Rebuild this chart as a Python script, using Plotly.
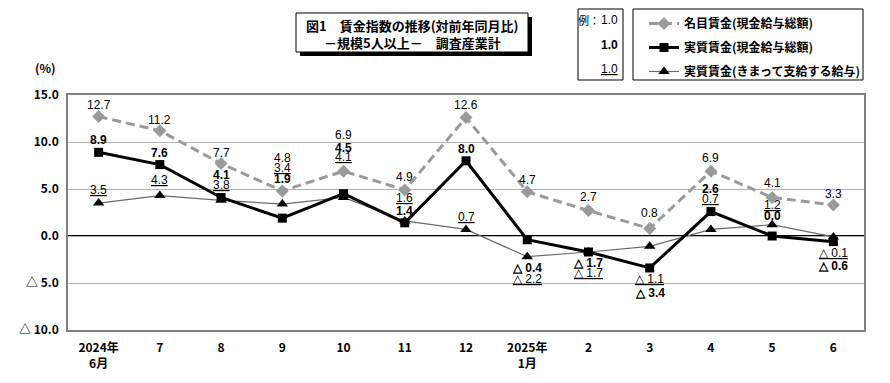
import plotly.graph_objects as go

# ---- data ----
categories = ["2024年<br>6月", "7", "8", "9", "10", "11", "12",
              "2025年<br>1月", "2", "3", "4", "5", "6"]
nominal = [12.7, 11.2, 7.7, 4.8, 6.9, 4.9, 12.6, 4.7, 2.7, 0.8, 6.9, 4.1, 3.3]
real_total = [8.9, 7.6, 4.1, 1.9, 4.5, 1.4, 8.0, -0.4, -1.7, -3.4, 2.6, 0.0, -0.6]
real_sched = [3.5, 4.3, 3.8, 3.4, 4.1, 1.6, 0.7, -2.2, -1.7, -1.1, 0.7, 1.2, -0.1]
ytick_vals = [-10, -5, 0, 5, 10, 15]
ytick_text = ["△ 10.0", "△ 5.0", "0.0", "5.0", "10.0", "15.0"]

names = ["名目賃金(現金給与総額)", "実質賃金(現金給与総額)", "実質賃金(きまって支給する給与)"]

# label vertical offsets in pixels (layout only)
nominal_dy = [12, 11, 11, 33, 36, 13, 13, 12, 14, 15, 13, 14, 11]
real_dy = [12, 12, 22, 39, 46, 12, 12, -28, -11, -25, 23, 20, -24]
sched_dy = [13, 16, 15, 36, 40, 23, 12, -22, -21, -33, 30, 20, -16]

# page offset (browser body margin)
OFF = 8
W, H = 890 - OFF, 383 - OFF
# plot area in reference-picture pixels
L, R, T, B = 68, 864, 95, 330


def px(x):
    return (x - L) / (R - L)


def py(y):
    return (B - y) / (B - T)


def fmt(v):
    return f"△ {abs(v):.1f}" if v < 0 else f"{v:.1f}"


CJK = "Noto Sans CJK JP"
NARROW = "Liberation Sans Narrow, Arial Narrow, sans-serif"

fig = go.Figure()
fig.add_trace(go.Scatter(
    x=categories, y=real_sched, name=names[2], mode="lines+markers",
    line=dict(color="#6a6a6a", width=1.2),
    marker=dict(symbol="triangle-up", size=10, color="black"),
    legendrank=3))
fig.add_trace(go.Scatter(
    x=categories, y=nominal, name=names[0], mode="lines+markers",
    line=dict(color="#9a9a9a", width=3, dash="9px,5px"),
    marker=dict(symbol="diamond", size=10, color="#9a9a9a"),
    legendrank=1))
fig.add_trace(go.Scatter(
    x=categories, y=real_total, name=names[1], mode="lines+markers",
    line=dict(color="black", width=3),
    marker=dict(symbol="square", size=9, color="black"),
    legendrank=2))

ann = []
for i, v in enumerate(nominal):
    ann.append(dict(x=i, y=v, xref="x", yref="y", text=fmt(v), showarrow=False,
                    xanchor="center", yanchor="middle",
                    yshift=nominal_dy[i], font=dict(family=NARROW, size=12, color="black")))
for i, v in enumerate(real_total):
    ann.append(dict(x=i, y=v, xref="x", yref="y", text=fmt(v), showarrow=False,
                    xanchor="center", yanchor="middle",
                    yshift=real_dy[i],
                    font=dict(family=NARROW, size=12, color="black", weight="bold")))
for i, v in enumerate(real_sched):
    ann.append(dict(x=i, y=v, xref="x", yref="y", text=fmt(v), showarrow=False,
                    xanchor="center", yanchor="middle",
                    yshift=sched_dy[i],
                    font=dict(family=NARROW, size=12, color="black", lineposition="under")))


def paper_text(x, y, text, font, xanchor="center"):
    ann.append(dict(x=px(x), y=py(y), xref="paper", yref="paper", showarrow=False,
                    xanchor=xanchor, yanchor="middle", text=text, font=font))


title_font = dict(family=CJK, size=13, color="black", weight="bold")
paper_text(412, 25, "図1　賃金指数の推移(対前年同月比)", title_font)
paper_text(412, 42, "－規模5人以上－　調査産業計", title_font)
# example box text
paper_text(602, 20, "例：", dict(family=CJK, size=11, color="black"), xanchor="right")
paper_text(620, 20, "1.0", dict(family=NARROW, size=12, color="black"), xanchor="right")
paper_text(620, 45, "1.0", dict(family=NARROW, size=12, color="black", weight="bold"), xanchor="right")
paper_text(620, 69, "1.0", dict(family=NARROW, size=12, color="black", lineposition="under"),
           xanchor="right")
# (%) label
paper_text(45, 68, "(%)", dict(family=CJK, size=12, color="black", weight="bold"))

shapes = [
    # title box shadow + box
    dict(type="rect", xref="paper", yref="paper", x0=px(300), x1=px(532), y0=py(17), y1=py(56),
         fillcolor="black", line=dict(width=0)),
    dict(type="rect", xref="paper", yref="paper", x0=px(296), x1=px(528), y0=py(13), y1=py(52),
         fillcolor="white", line=dict(color="black", width=1)),
    # example box
    dict(type="rect", xref="paper", yref="paper", x0=px(578), x1=px(623), y0=py(9), y1=py(80),
         fillcolor="white", line=dict(color="black", width=1)),
    # legend box
    dict(type="rect", xref="paper", yref="paper", x0=px(633), x1=px(863), y0=py(9), y1=py(80),
         fillcolor="rgba(0,0,0,0)", line=dict(color="black", width=1), layer="below"),
    # zero line
    dict(type="line", xref="paper", yref="y", x0=0, x1=1, y0=0, y1=0,
         line=dict(color="black", width=2), layer="below"),
]

fig.update_layout(
    width=W, height=H,
    margin=dict(l=L - OFF, r=W - (R - OFF), t=T - OFF, b=H - (B - OFF), autoexpand=False),
    paper_bgcolor="white", plot_bgcolor="white",
    showlegend=True,
    legend=dict(x=px(644), y=py(9), xanchor="left", yanchor="top",
                bgcolor="rgba(0,0,0,0)", borderwidth=0, tracegroupgap=5,
                font=dict(family=CJK, size=12, color="black", weight="bold")),
    annotations=ann, shapes=shapes,
    xaxis=dict(type="category", range=[-0.5, 12.5], showgrid=False,
               showline=True, linecolor="#808080", linewidth=1.5, mirror=True,
               ticks="", ticklabelstandoff=6,
               tickfont=dict(family=CJK, size=12, color="black", weight="bold"),
               zeroline=False),
    yaxis=dict(range=[-10, 15], tickvals=ytick_vals, ticktext=ytick_text,
               showgrid=True, gridcolor="#b4b4b4", gridwidth=1,
               showline=True, linecolor="#808080", linewidth=1.5, mirror=True,
               ticks="", zeroline=False, ticklabelstandoff=5,
               tickfont=dict(family=CJK, size=12, color="black", weight="bold")),
)
for i, tr in enumerate(fig.data):
    tr.legendgroup = f"g{i}"

fig.write_html("out.html")
